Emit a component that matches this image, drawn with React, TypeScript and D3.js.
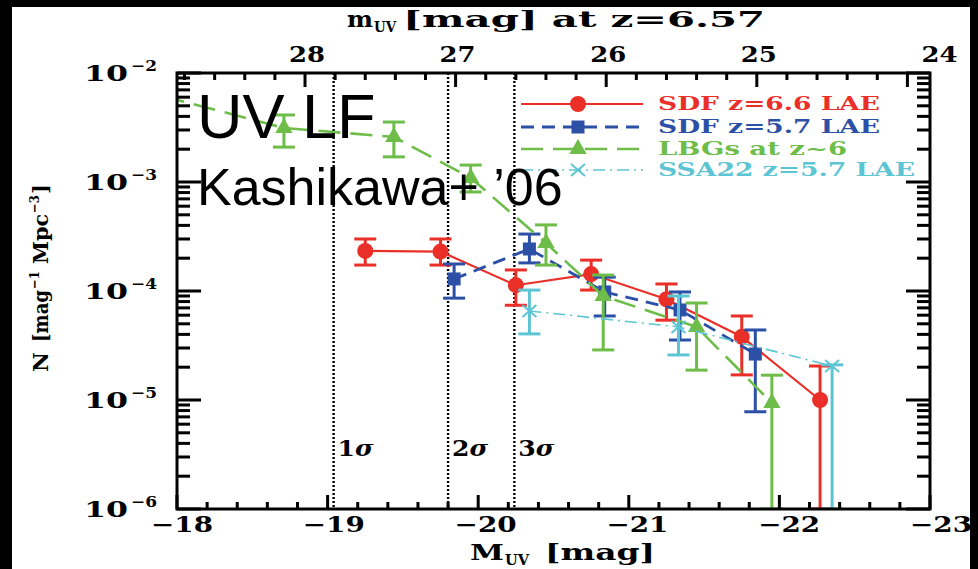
import React from "react";
import * as d3 from "d3";

const SERIF = "'DejaVu Serif', serif";
const SANS = "'Liberation Sans', Arial, sans-serif";

const RED = "#ea2f28";
const BLUE = "#2c50a6";
const GREEN = "#6dbd48";
const CYAN = "#5cc5d3";

const xTicks = [-18, -19, -20, -21, -22, -23];
const xTickLabels = ["−18", "−19", "−20", "−21", "−22", "−23"];
const yDecades = [-2, -3, -4, -5, -6];
const yDecadeLabels = ["−2", "−3", "−4", "−5", "−6"];
const topTicks = [28, 27, 26, 25, 24];
const topTickLabels = ["28", "27", "26", "25", "24"];
const mOffset = 46.85; // m_UV = M_UV + offset

const sigmaM = [-19.04, -19.8, -20.24];
const sigmaLabels = ["1", "2", "3"];

// SDF z=6.6 LAE
const redM = [-19.25, -19.75, -20.25, -20.75, -21.25, -21.75, -22.27];
const redN = [2.33e-4, 2.3e-4, 1.13e-4, 1.43e-4, 8.4e-5, 3.8e-5, 1.0e-5];
const redHi = [3.0e-4, 3.0e-4, 1.56e-4, 1.92e-4, 1.16e-4, 5.9e-5, 2.05e-5];
const redLo = [1.73e-4, 1.73e-4, 7.4e-5, 1.02e-4, 5.4e-5, 1.7e-5, 1e-6];

// SDF z=5.7 LAE
const blueM = [-19.84, -20.34, -20.84, -21.34, -21.84];
const blueN = [1.29e-4, 2.43e-4, 9.8e-5, 6.7e-5, 2.64e-5];
const blueHi = [1.77e-4, 3.33e-4, 1.34e-4, 9.8e-5, 4.39e-5];
const blueLo = [8.6e-5, 1.81e-4, 5.9e-5, 3.55e-5, 7.8e-6];

// LBGs at z~6 (first point lies beyond the left edge)
const greenM = [-17.7, -18.71, -19.44, -19.95, -20.45, -20.83, -21.45, -21.95];
const greenN = [7.3e-3, 3.13e-3, 2.59e-3, 1.09e-3, 2.75e-4, 9.0e-5, 4.68e-5, 9.4e-6];
const greenHi = [NaN, 4.12e-3, 3.55e-3, 1.43e-3, 4.04e-4, 1.4e-4, 7.76e-5, 1.69e-5];
const greenLo = [NaN, 2.09e-3, 1.7e-3, 8.1e-4, 1.73e-4, 2.88e-5, 1.88e-5, 1e-6];

// SSA22 z=5.7 LAE
const cyanM = [-20.34, -21.33, -22.35];
const cyanN = [6.56e-5, 4.68e-5, 2.05e-5];
const cyanHi = [1.02e-4, 9.0e-5, 2.1e-5];
const cyanLo = [4.04e-5, 2.59e-5, 1e-6];

const legendNames = ["SDF z=6.6 LAE", "SDF z=5.7 LAE", "LBGs at z~6", "SSA22 z=5.7 LAE"];

type Series = {
  name: string; M: number[]; N: number[]; hi: number[]; lo: number[];
  color: string; dash: string | undefined; width: number; marker: string; textLen: number;
};

const series: Series[] = [
  { name: legendNames[0], M: redM, N: redN, hi: redHi, lo: redLo, color: RED, dash: undefined, width: 2.2, marker: "circle", textLen: 222 },
  { name: legendNames[1], M: blueM, N: blueN, hi: blueHi, lo: blueLo, color: BLUE, dash: "13,8", width: 2.8, marker: "square", textLen: 222 },
  { name: legendNames[2], M: greenM, N: greenN, hi: greenHi, lo: greenLo, color: GREEN, dash: "22,10", width: 2.6, marker: "triangle", textLen: 189 },
  { name: legendNames[3], M: cyanM, N: cyanN, hi: cyanHi, lo: cyanLo, color: CYAN, dash: "12,5,2,5", width: 1.6, marker: "cross", textLen: 257 },
];

function Marker({ kind, cx, cy, color }: { kind: string; cx: number; cy: number; color: string }) {
  if (kind === "circle") return <circle cx={cx} cy={cy} r={8} fill={color} />;
  if (kind === "square") return <rect x={cx - 6.5} y={cy - 6.5} width={13} height={13} fill={color} />;
  if (kind === "triangle")
    return <path d={d3.symbol(d3.symbolTriangle, 130)() || ""} transform={`translate(${cx},${cy})`} fill={color} />;
  return (
    <g stroke={color} strokeWidth={2}>
      <line x1={cx - 7} y1={cy - 6} x2={cx + 7} y2={cy + 6} />
      <line x1={cx - 7} y1={cy + 6} x2={cx + 7} y2={cy - 6} />
    </g>
  );
}

function W({ x, y, len, size, children, anchor }: { x: number; y: number; len: number; size: number; children: React.ReactNode; anchor?: string }) {
  return (
    <text x={x} y={y} fontFamily={SERIF} fontWeight="bold" fontSize={size} textLength={len} lengthAdjust="spacingAndGlyphs" textAnchor={anchor}>
      {children}
    </text>
  );
}

export default function App() {
  const L = 177, R = 930, T = 73, B = 509;
  const x = d3.scaleLinear().domain([-18, -23]).range([L, R]);
  const y = d3.scaleLog().domain([1e-6, 1e-2]).range([B, T]);
  const line = d3.line<[number, number]>().x((d) => x(d[0])).y((d) => y(d[1]));

  const xMinor: number[] = [];
  for (let k = 1; k < 25; k++) if (k % 5 !== 0) xMinor.push(-18 - k * 0.2);
  const topMinor: number[] = [];
  for (let k = 0; k < 40; k++) {
    const m = 23 + k * 0.2;
    if (k % 5 !== 0 && m - mOffset <= -18 && m - mOffset >= -23) topMinor.push(m);
  }
  const yMinor: number[] = [];
  for (let d = -6; d < -2; d++) for (let k = 2; k <= 9; k++) yMinor.push(k * Math.pow(10, d));

  const tw = 3;
  type Tk = { x: number; y: number; w: number; h: number };
  const tks: Tk[] = [];
  xTicks.forEach((t) => tks.push({ x: x(t) - tw / 2, y: B - 14, w: tw, h: 14 }));
  xMinor.forEach((t) => tks.push({ x: x(t) - tw / 2, y: B - 7, w: tw, h: 7 }));
  topTicks.forEach((m) => tks.push({ x: x(m - mOffset) - tw / 2, y: T, w: tw, h: 14 }));
  topMinor.forEach((m) => tks.push({ x: x(m - mOffset) - tw / 2, y: T, w: tw, h: 7 }));
  yDecades.forEach((d) => {
    const yy = y(Math.pow(10, d));
    tks.push({ x: L, y: yy - tw / 2, w: 24, h: tw });
    tks.push({ x: R - 24, y: yy - tw / 2, w: 24, h: tw });
  });
  yMinor.forEach((v) => {
    const yy = y(v);
    tks.push({ x: L, y: yy - tw / 2, w: 13, h: tw });
    tks.push({ x: R - 13, y: yy - tw / 2, w: 13, h: tw });
  });

  const topLabelX = (m: number, i: number) => x(m - mOffset) + (i === topTicks.length - 1 ? 32 : 2);

  return (
    <svg width={978} height={569} style={{ position: "absolute", left: 0, top: 0, display: "block" }}>
      <defs>
        <clipPath id="plot">
          <rect x={L} y={T} width={R - L} height={B - T} />
        </clipPath>
      </defs>
      <rect x={0} y={0} width={978} height={569} fill="#000" />
      <rect x={12} y={7} width={958} height={562} fill="#fff" />

      {sigmaM.map((m, i) => (
        <g key={"s" + i}>
          <line x1={x(m)} x2={x(m)} y1={T} y2={B} stroke="#000" strokeWidth={2.4} strokeDasharray="2,2" />
          <text x={x(m) + 4} y={456} fontFamily={SERIF} fontWeight="bold" fontSize={22} textLength={36} lengthAdjust="spacingAndGlyphs">
            {sigmaLabels[i]}
            <tspan fontStyle="italic">σ</tspan>
          </text>
        </g>
      ))}

      <g clipPath="url(#plot)">
        {series.map((s) => {
          const pts = s.M.map((m, i) => [m, s.N[i]] as [number, number]);
          return (
            <g key={s.name}>
              <path d={line(pts) || ""} fill="none" stroke={s.color} strokeWidth={s.width} strokeDasharray={s.dash} />
              {s.M.map((m, i) =>
                isNaN(s.hi[i]) ? null : (
                  <g key={i} stroke={s.color} strokeWidth={3}>
                    <line x1={x(m)} x2={x(m)} y1={y(s.hi[i])} y2={y(s.lo[i])} />
                    <line x1={x(m) - 11} x2={x(m) + 11} y1={y(s.hi[i])} y2={y(s.hi[i])} />
                    <line x1={x(m) - 11} x2={x(m) + 11} y1={y(s.lo[i])} y2={y(s.lo[i])} />
                  </g>
                )
              )}
              {s.M.map((m, i) => (
                <Marker key={"m" + i} kind={s.marker} cx={x(m)} cy={y(s.N[i])} color={s.color} />
              ))}
            </g>
          );
        })}
      </g>

      <rect x={L} y={T} width={R - L} height={B - T} fill="none" stroke="#000" strokeWidth={3} />
      <g fill="#000">
        {tks.map((t, i) => (
          <rect key={"tk" + i} x={t.x} y={t.y} width={t.w} height={t.h} />
        ))}
      </g>

      {xTicks.map((t, i) => (
        <W key={"xl" + i} x={x(t) + 5 + i * 1.2} y={532} len={62} size={22} anchor="middle">{xTickLabels[i]}</W>
      ))}
      {topTicks.map((m, i) => (
        <W key={"tl" + i} x={topLabelX(m, i)} y={62} len={36} size={22} anchor="middle">{topTickLabels[i]}</W>
      ))}
      {yDecades.map((d, i) => (
        <g key={"yl" + i}>
          <W x={84} y={y(Math.pow(10, d)) + 8} len={44} size={22}>10</W>
          <W x={131} y={y(Math.pow(10, d)) - 2} len={26} size={15}>{yDecadeLabels[i]}</W>
        </g>
      ))}

      <W x={347} y={27} len={26} size={23}>m</W>
      <W x={374} y={32} len={22} size={14}>UV</W>
      <W x={403} y={27} len={362} size={23}>[mag] at z=6.57</W>

      <W x={470} y={560} len={34} size={23}>M</W>
      <W x={505} y={565} len={24} size={14}>UV</W>
      <W x={545} y={560} len={110} size={23}>[mag]</W>

      <g transform="translate(48,372) rotate(-90)">
        <W x={0} y={0} len={20} size={21}>N</W>
        <W x={30} y={0} len={52} size={21}>[mag</W>
        <W x={83} y={-9} len={18} size={13}>−1</W>
        <W x={108} y={0} len={50} size={21}>Mpc</W>
        <W x={159} y={-9} len={18} size={13}>−3</W>
        <W x={178} y={0} len={10} size={21}>]</W>
      </g>

      {series.map((s, i) => {
        const ly = [104, 127, 149, 170][i];
        return (
          <g key={"lg" + i}>
            <line x1={521} x2={643} y1={ly} y2={ly} stroke={s.color} strokeWidth={s.width} strokeDasharray={s.dash} />
            <Marker kind={s.marker} cx={578} cy={ly} color={s.color} />
            <text x={658} y={ly + 6} fill={s.color} fontFamily={SERIF} fontWeight="bold" fontSize={18} textLength={s.textLen} lengthAdjust="spacingAndGlyphs">
              {s.name}
            </text>
          </g>
        );
      })}

      <text x={197} y={138} fontFamily={SANS} fontSize={63} fill="#000">UV LF</text>
      <text x={197} y={205} fontFamily={SANS} fontSize={52} fill="#000">Kashikawa+ ’06</text>
    </svg>
  );
}
